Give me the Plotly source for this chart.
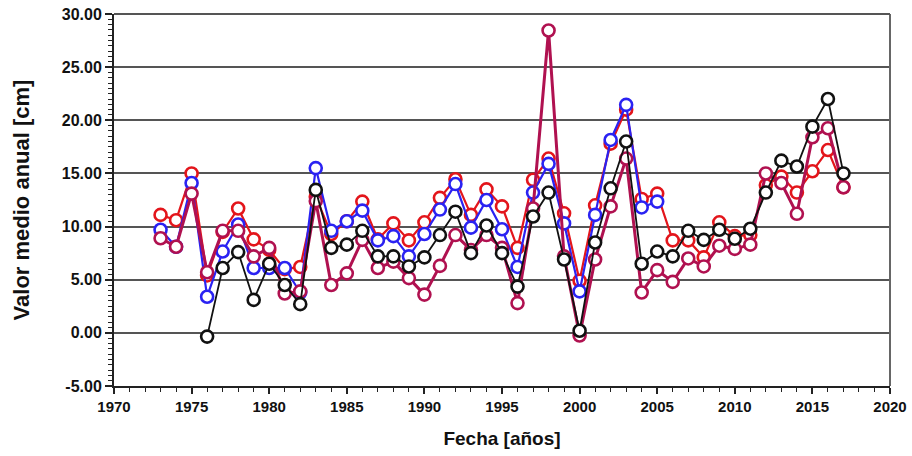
import plotly.graph_objects as go

years_red = list(range(1973, 2018))
red = [11.1, 10.6, 15.0, 5.4, 9.5, 11.7, 8.8, 7.8, 6.0, 6.2,
       12.8, 9.3, 10.5, 12.35, 8.8, 10.3, 8.7, 10.4, 12.7, 14.45,
       11.1, 13.5, 11.9, 8.0, 14.4, 16.4, 11.25, 4.9, 12.0, 17.8,
       21.0, 12.6, 13.1, 8.7, 8.7, 7.1, 10.4, 9.1, 9.2, 13.9,
       14.7, 13.2, 15.2, 17.2, 13.7]

years_blue = list(range(1973, 2006))
blue = [9.7, 8.1, 14.1, 3.4, 7.65, 10.2, 6.1, 6.1, 6.1, 3.8,
        15.5, 9.6, 10.5, 11.5, 8.7, 9.1, 7.2, 9.3, 11.6, 14.0,
        9.9, 12.5, 9.75, 6.2, 13.2, 15.9, 10.3, 3.9, 11.1, 18.15,
        21.45, 11.8, 12.35]

years_crimson = list(range(1973, 2018))
crimson = [8.9, 8.1, 13.1, 5.7, 9.6, 9.6, 7.2, 8.0, 3.7, 3.9,
           12.4, 4.5, 5.6, 8.75, 6.1, 6.7, 5.15, 3.6, 6.3, 9.2,
           7.8, 9.2, 8.0, 2.8, 11.7, 28.45, 7.2, -0.25, 6.9, 11.9,
           16.4, 3.8, 5.9, 4.8, 7.0, 6.25, 8.2, 7.9, 8.3, 15.0,
           14.1, 11.2, 18.4, 19.25, 13.7]

years_black = list(range(1976, 2018))
black = [-0.35, 6.1, 7.6, 3.1, 6.5, 4.5, 2.7, 13.45, 8.0, 8.3,
         9.6, 7.2, 7.2, 6.25, 7.1, 9.2, 11.4, 7.5, 10.1, 7.5,
         4.35, 10.95, 13.2, 6.9, 0.2, 8.5, 13.6, 18.0, 6.5, 7.65,
         7.2, 9.6, 8.75, 9.7, 8.85, 9.8, 13.2, 16.2, 15.65, 19.4,
         22.0, 15.0]

y_ticks = [-5, 0, 5, 10, 15, 20, 25, 30]
y_ticklabels = ["-5.00", "0.00", "5.00", "10.00", "15.00", "20.00", "25.00", "30.00"]
x_ticks = [1970, 1975, 1980, 1985, 1990, 1995, 2000, 2005, 2010, 2015, 2020]

fig = go.Figure()

def add(x, y, color, lw):
    fig.add_trace(go.Scatter(
        x=x, y=y, mode="lines+markers",
        line=dict(color=color, width=lw),
        marker=dict(symbol="circle", size=12, color="white",
                    line=dict(color=color, width=2.6)),
        showlegend=False, hoverinfo="x+y"))

add(years_red, red, "#e3151b", 2.2)
add(years_blue, blue, "#2a22f2", 2.2)
add(years_crimson, crimson, "#b01150", 3.0)
add(years_black, black, "#111111", 1.8)

font_main = "Liberation Sans, Arial, sans-serif"

fig.update_layout(
    width=912, height=456,
    margin=dict(l=114, r=22, t=14, b=70),
    paper_bgcolor="white", plot_bgcolor="white",
    font=dict(family=font_main, color="#111111"),
    xaxis=dict(
        range=[1970, 2020], tickvals=x_ticks,
        ticktext=["<b>%d</b>" % v for v in x_ticks],
        tickfont=dict(size=15, family=font_main, color="#111111"),
        ticks="outside", ticklen=6, tickcolor="#222", tickwidth=1.5,
        minor=dict(dtick=1, ticks="outside", ticklen=4, tickcolor="#222", tickwidth=1),
        showline=True, linecolor="#222", linewidth=2,
        showgrid=False, zeroline=False, automargin=False,
        title=dict(text="<b>Fecha [años]</b>", font=dict(size=19, family=font_main), standoff=18),
    ),
    yaxis=dict(
        range=[-5, 30], tickvals=y_ticks,
        ticktext=["<b>%s</b>" % t for t in y_ticklabels],
        tickfont=dict(size=16, color="#111111"),
        ticks="outside", ticklen=7, tickcolor="#222", tickwidth=1.5,
        minor=dict(dtick=0.5, ticks="outside", ticklen=4, tickcolor="#222", tickwidth=1, showgrid=False),
        showline=True, linecolor="#222", linewidth=2,
        showgrid=True, gridcolor="#555555", gridwidth=2,
        zeroline=False, automargin=False,
        title=dict(text="<b>Valor medio anual [cm]</b>", font=dict(size=22, family=font_main), standoff=26),
    ),
    shapes=[
        dict(type="line", xref="paper", yref="paper", x0=1, x1=1, y0=0, y1=1,
             line=dict(color="#666666", width=2)),
        dict(type="line", xref="paper", yref="paper", x0=0, x1=1, y0=1, y1=1,
             line=dict(color="#555555", width=2)),
    ],
)

fig.write_html("out.html", config={"displayModeBar": False},
               post_script="document.body.style.margin='0';document.body.style.overflow='hidden';")
